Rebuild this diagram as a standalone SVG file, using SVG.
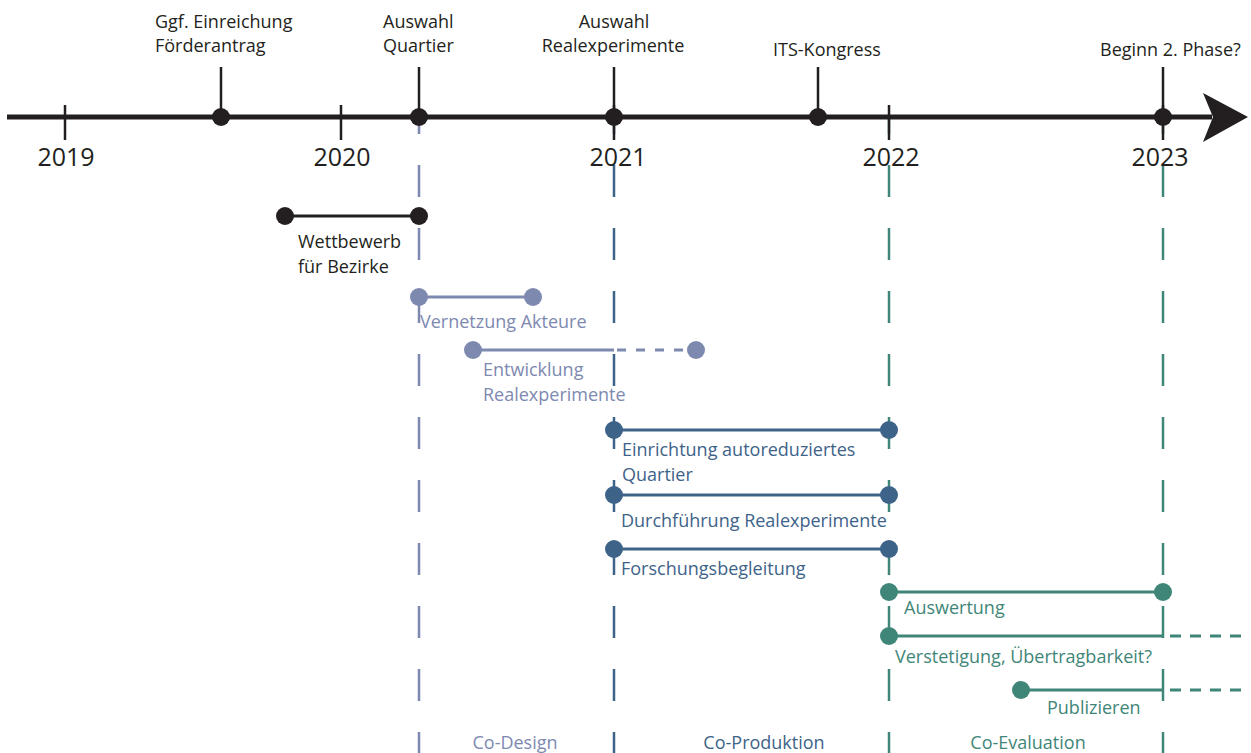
<svg xmlns="http://www.w3.org/2000/svg" width="1251" height="753" viewBox="0 0 1251 753">
<style>
text{font-family:"Open Sans","Liberation Sans",sans-serif;font-size:18px}
.yr{font-size:25px;fill:#231f20;text-anchor:middle}
.k{fill:#231f20}
.p{fill:#7e89b0}
.b{fill:#3e6389}
.t{fill:#3f8678}
.mid{text-anchor:middle}
.vd{fill:none;stroke-width:2.5;stroke-dasharray:32 31;stroke-dashoffset:15}
.bar{stroke-width:3;fill:none}
.dashp{stroke-width:3;fill:none;stroke-dasharray:9 10}
.dasht{stroke-width:3;fill:none;stroke-dasharray:11 9}
</style>
<rect width="1251" height="753" fill="#ffffff"/>
<g id="phase-lines">
<line class="vd" x1="419" y1="117" x2="419" y2="753" stroke="#7e89b0"/>
<line class="vd" x1="614" y1="117" x2="614" y2="753" stroke="#3e6389"/>
<line class="vd" x1="889" y1="117" x2="889" y2="753" stroke="#3f8678"/>
<line class="vd" x1="1163" y1="117" x2="1163" y2="753" stroke="#3f8678"/>
</g>
<g id="axis">
<line x1="7" y1="117" x2="1212" y2="117" stroke="#231f20" stroke-width="5"/>
<polygon points="1203,93 1248,117 1203,142 1213,117" fill="#231f20"/>
<g stroke="#231f20" stroke-width="2.5">
<line x1="65" y1="105" x2="65" y2="140"/>
<line x1="341" y1="105" x2="341" y2="140"/>
<line x1="614" y1="105" x2="614" y2="140"/>
<line x1="889" y1="105" x2="889" y2="140"/>
<line x1="1163" y1="105" x2="1163" y2="140"/>
</g>
<text class="yr" x="66" y="166">2019</text>
<text class="yr" x="342" y="166">2020</text>
<text class="yr" x="618" y="166">2021</text>
<text class="yr" x="891" y="166">2022</text>
<text class="yr" x="1160" y="166">2023</text>
</g>
<g id="event-foerderantrag">
<line x1="221" y1="67" x2="221" y2="117" stroke="#231f20" stroke-width="2.5"/>
<circle cx="221" cy="117" r="9" class="k"/>
<text class="k" x="155" y="28">Ggf. Einreichung</text>
<text class="k" x="155" y="52">Förderantrag</text>
</g>
<g id="event-quartier">
<line x1="419" y1="67" x2="419" y2="117" stroke="#231f20" stroke-width="2.5"/>
<circle cx="419" cy="117" r="9" class="k"/>
<text class="k" x="383" y="28">Auswahl</text>
<text class="k" x="383" y="52">Quartier</text>
</g>
<g id="event-realexperimente">
<line x1="614" y1="67" x2="614" y2="117" stroke="#231f20" stroke-width="2.5"/>
<circle cx="614" cy="117" r="9" class="k"/>
<text class="k mid" x="614" y="28">Auswahl</text>
<text class="k mid" x="613" y="52">Realexperimente</text>
</g>
<g id="event-its">
<line x1="818" y1="67" x2="818" y2="117" stroke="#231f20" stroke-width="2.5"/>
<circle cx="818" cy="117" r="9" class="k"/>
<text class="k" x="773" y="56">ITS-Kongress</text>
</g>
<g id="event-phase2">
<line x1="1163" y1="67" x2="1163" y2="117" stroke="#231f20" stroke-width="2.5"/>
<circle cx="1163" cy="117" r="9" class="k"/>
<text class="k" x="1100" y="56">Beginn 2. Phase?</text>
</g>
<g id="wettbewerb">
<line class="bar" x1="285" y1="216" x2="419" y2="216" stroke="#231f20"/>
<circle cx="285" cy="216" r="9" class="k"/>
<circle cx="419" cy="216" r="9" class="k"/>
<text class="k" x="298" y="248">Wettbewerb</text>
<text class="k" x="298" y="273">für Bezirke</text>
</g>
<g id="vernetzung">
<line class="bar" x1="419" y1="297" x2="533" y2="297" stroke="#7e89b0"/>
<circle cx="419" cy="297" r="9" class="p"/>
<circle cx="533" cy="297" r="9" class="p"/>
<text class="p" x="420" y="328">Vernetzung Akteure</text>
</g>
<g id="entwicklung">
<line class="bar" x1="473" y1="350" x2="614" y2="350" stroke="#7e89b0"/>
<line class="dashp" x1="617" y1="350" x2="690" y2="350" stroke="#7e89b0"/>
<circle cx="473" cy="350" r="9" class="p"/>
<circle cx="696" cy="350" r="9" class="p"/>
<text class="p" x="483" y="376">Entwicklung</text>
<text class="p" x="483" y="401">Realexperimente</text>
</g>
<g id="einrichtung">
<line class="bar" x1="614" y1="430" x2="889" y2="430" stroke="#3e6389"/>
<circle cx="614" cy="430" r="9" class="b"/>
<circle cx="889" cy="430" r="9" class="b"/>
<text class="b" x="622" y="456">Einrichtung autoreduziertes</text>
<text class="b" x="622" y="481">Quartier</text>
</g>
<g id="durchfuehrung">
<line class="bar" x1="614" y1="495" x2="889" y2="495" stroke="#3e6389"/>
<circle cx="614" cy="495" r="9" class="b"/>
<circle cx="889" cy="495" r="9" class="b"/>
<text class="b" x="621" y="527">Durchführung Realexperimente</text>
</g>
<g id="forschungsbegleitung">
<line class="bar" x1="614" y1="549" x2="889" y2="549" stroke="#3e6389"/>
<circle cx="614" cy="549" r="9" class="b"/>
<circle cx="889" cy="549" r="9" class="b"/>
<text class="b" x="621" y="575">Forschungsbegleitung</text>
</g>
<g id="auswertung">
<line class="bar" x1="889" y1="592" x2="1163" y2="592" stroke="#3f8678"/>
<circle cx="889" cy="592" r="9" class="t"/>
<circle cx="1163" cy="592" r="9" class="t"/>
<text class="t" x="904" y="614">Auswertung</text>
</g>
<g id="verstetigung">
<line class="bar" x1="889" y1="636" x2="1163" y2="636" stroke="#3f8678"/>
<line class="dasht" x1="1170" y1="636" x2="1245" y2="636" stroke="#3f8678"/>
<circle cx="889" cy="636" r="9" class="t"/>
<text class="t" x="895" y="663">Verstetigung, Übertragbarkeit?</text>
</g>
<g id="publizieren">
<line class="bar" x1="1021" y1="690" x2="1163" y2="690" stroke="#3f8678"/>
<line class="dasht" x1="1170" y1="690" x2="1245" y2="690" stroke="#3f8678"/>
<circle cx="1021" cy="690" r="9" class="t"/>
<text class="t" x="1047" y="714">Publizieren</text>
</g>
<g id="phase-labels">
<text class="p mid" x="515" y="749">Co-Design</text>
<text class="b mid" x="764" y="749">Co-Produktion</text>
<text class="t mid" x="1028" y="749">Co-Evaluation</text>
</g>
</svg>
